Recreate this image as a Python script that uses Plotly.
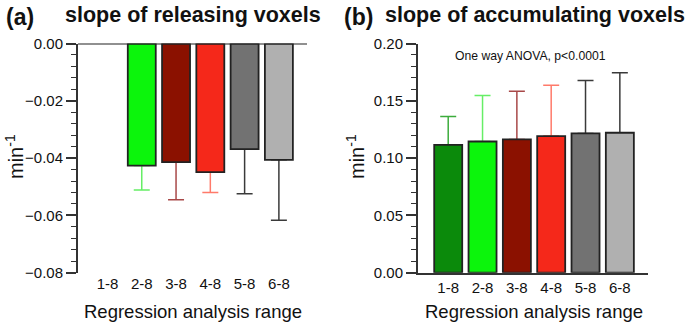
import plotly.graph_objects as go

categories = ["1-8", "2-8", "3-8", "4-8", "5-8", "6-8"]
release_mean = [None, -0.0426, -0.0414, -0.0449, -0.0369, -0.0406]
release_sd = [None, 0.0085, 0.0131, 0.0071, 0.0155, 0.0211]
accum_mean = [0.1116, 0.1145, 0.1163, 0.1192, 0.1215, 0.1221]
accum_sd = [0.0247, 0.0402, 0.0421, 0.0444, 0.0462, 0.0523]
bar_colors = ["#0b8a0b", "#0cf50c", "#8b1100", "#f5281a", "#727272", "#b0b0b0"]
err_colors = ["#3cac3c", "#66ee66", "#a84848", "#ff7a6a", "#3a3a3a", "#3a3a3a"]

FONT = "Liberation Sans, Arial, sans-serif"
fig = go.Figure()

# error bars on base axes (drawn beneath bars of overlay axes)
for i, c in enumerate(categories):
    if release_mean[i] is not None:
        fig.add_trace(go.Scatter(
            x=[c], y=[release_mean[i]], xaxis="x", yaxis="y", mode="markers",
            marker=dict(size=1, opacity=0), hoverinfo="skip", showlegend=False,
            error_y=dict(type="data", symmetric=False, array=[0], arrayminus=[release_sd[i]],
                         color=err_colors[i], thickness=1.5, width=8)))
    fig.add_trace(go.Scatter(
        x=[c], y=[accum_mean[i]], xaxis="x2", yaxis="y2", mode="markers",
        marker=dict(size=1, opacity=0), hoverinfo="skip", showlegend=False,
        error_y=dict(type="data", symmetric=False, array=[accum_sd[i]], arrayminus=[0],
                     color=err_colors[i], thickness=1.5, width=8)))

fig.add_trace(go.Bar(x=categories, y=release_mean, xaxis="x", yaxis="y3",
                     marker=dict(color=bar_colors, line=dict(color="#222", width=1.8)),
                     showlegend=False))
fig.add_trace(go.Bar(x=categories, y=accum_mean, xaxis="x2", yaxis="y4",
                     marker=dict(color=bar_colors, line=dict(color="#222", width=1.8)),
                     showlegend=False))

ydom = [1 - 272.7 / 323, 1 - 43.5 / 323]
xdom1 = [78 / 685, 307 / 685]
xdom2 = [418 / 685, 648 / 685]

tickfont = dict(family=FONT, size=15, color="#111")
common_y = dict(showline=True, linecolor="#333", linewidth=2, ticks="outside", ticklen=10,
                tickwidth=1.5, tickcolor="#333", showgrid=False, zeroline=False,
                tickfont=tickfont, tickformat=".2f")

fig.update_layout(
    width=685, height=323, margin=dict(l=0, r=0, t=0, b=0, autoexpand=False),
    paper_bgcolor="white", plot_bgcolor="white", bargap=0.184,
    font=dict(family=FONT),
    xaxis=dict(domain=xdom1, anchor="y", type="category", range=[-0.86, 5.82],
               categoryorder="array", categoryarray=categories,
               showline=False, ticks="", showgrid=False, tickfont=tickfont),
    yaxis=dict(domain=ydom, anchor="x", range=[-0.08, 0], dtick=0.02,
               minor=dict(dtick=0.004, ticks="outside", ticklen=5, tickcolor="#333", tickwidth=1.2),
               **common_y),
    yaxis3=dict(overlaying="y", range=[-0.08, 0], visible=False, anchor="x"),
    xaxis2=dict(domain=xdom2, anchor="y2", type="category", range=[-0.88, 5.82],
                categoryorder="array", categoryarray=categories,
                showline=True, linecolor="#333", linewidth=2, ticks="", showgrid=False,
                tickfont=tickfont),
    yaxis2=dict(domain=ydom, anchor="x2", range=[0, 0.2], dtick=0.05,
                minor=dict(dtick=0.01, ticks="outside", ticklen=5, tickcolor="#333", tickwidth=1.2),
                **common_y),
    yaxis4=dict(overlaying="y2", range=[0, 0.2], visible=False, anchor="x2"),
)

# zero line at top of left panel
fig.add_shape(type="line", xref="x domain", yref="y", x0=0, x1=1, y0=0, y1=0,
              line=dict(color="#222", width=2))

ann = []
ann.append(dict(text="<b>(a)</b>", x=4 / 685, y=1 - 17 / 323, xanchor="left", yanchor="middle",
                font=dict(size=23, color="#111")))
ann.append(dict(text="<b>slope of releasing voxels</b>", x=192.5 / 685, y=1 - 15 / 323,
                xanchor="center", yanchor="middle", font=dict(size=21.5, color="#111")))
ann.append(dict(text="<b>(b)</b>", x=342 / 685, y=1 - 17 / 323, xanchor="left", yanchor="middle",
                font=dict(size=23, color="#111")))
ann.append(dict(text="<b>slope of accumulating voxels</b>", x=535 / 685, y=1 - 15 / 323,
                xanchor="center", yanchor="middle", font=dict(size=21.5, color="#111")))
ann.append(dict(text="One way ANOVA, p<0.0001", x=530 / 685, y=1 - 56 / 323,
                xanchor="center", yanchor="middle", font=dict(size=12.2, color="#111")))
for xc in [192.5, 533.5]:
    ann.append(dict(text="Regression analysis range", x=xc / 685, y=1 - 311 / 323,
                    xanchor="center", yanchor="middle", font=dict(size=18.5, color="#111")))
for xc in [14, 355]:
    ann.append(dict(text="min<sup>-1</sup>", x=xc / 685, y=1 - 157 / 323, textangle=-90,
                    xanchor="center", yanchor="middle", font=dict(size=20, color="#111")))
for a in ann:
    a.update(xref="paper", yref="paper", showarrow=False)
fig.update_layout(annotations=ann)

fig.write_html("out.html", config={"displayModeBar": False},
               post_script="document.body.style.margin='0px';")
